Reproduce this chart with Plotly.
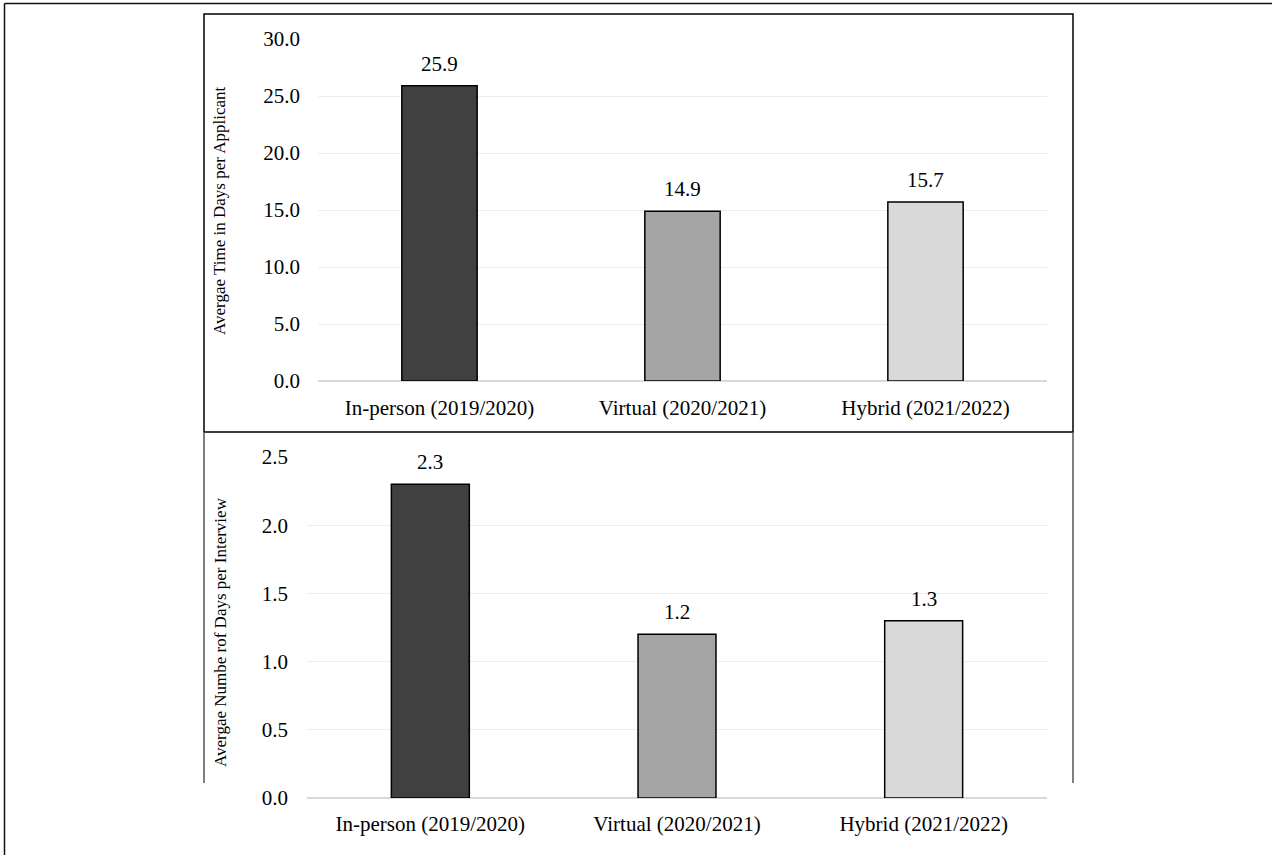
import plotly.graph_objects as go

categories = ["In-person (2019/2020)", "Virtual (2020/2021)", "Hybrid (2021/2022)"]
days_per_applicant = [25.9, 14.9, 15.7]
days_per_interview = [2.3, 1.2, 1.3]
bar_colors = ["#404040", "#A5A5A5", "#D9D9D9"]
top_ticks = [0, 5, 10, 15, 20, 25, 30]
bottom_ticks = [0, 0.5, 1.0, 1.5, 2.0, 2.5]
top_title = "Avergae Time in Days per Applicant"
bottom_title = "Avergae Numbe rof Days per Interview"

W, H = 1272, 855
FONT = "Liberation Serif, Times New Roman, serif"

def px(x):
    return x / W

def py(y):
    return 1 - y / H

fig = go.Figure()

fig.add_trace(go.Bar(
    x=categories, y=days_per_applicant, marker=dict(color=bar_colors, line=dict(color="#000000", width=1.5)),
    width=0.31, xaxis="x", yaxis="y", showlegend=False, hoverinfo="skip"))
fig.add_trace(go.Bar(
    x=categories, y=days_per_interview, marker=dict(color=bar_colors, line=dict(color="#000000", width=1.5)),
    width=0.316, xaxis="x2", yaxis="y2", showlegend=False, hoverinfo="skip"))

annotations = []
for c, v in zip(categories, days_per_applicant):
    annotations.append(dict(x=c, y=v, xref="x", yref="y", text=f"{v:.1f}", showarrow=False,
                            yanchor="bottom", yshift=8, font=dict(family=FONT, size=21, color="#000000")))
for c, v in zip(categories, days_per_interview):
    annotations.append(dict(x=c, y=v, xref="x2", yref="y2", text=f"{v:.1f}", showarrow=False,
                            yanchor="bottom", yshift=8, font=dict(family=FONT, size=21, color="#000000")))

annotations.append(dict(x=px(220), y=py(211), xref="paper", yref="paper", text=top_title, textangle=-90,
                        showarrow=False, xanchor="center", yanchor="middle",
                        font=dict(family=FONT, size=17, color="#000000")))
annotations.append(dict(x=px(220), y=py(632), xref="paper", yref="paper", text=bottom_title, textangle=-90,
                        showarrow=False, xanchor="center", yanchor="middle",
                        font=dict(family=FONT, size=17, color="#000000")))

axis_font = dict(family=FONT, size=21, color="#000000")

shapes = [
    # outer border (left and top)
    dict(type="line", xref="paper", yref="paper", x0=px(4.5), x1=px(4.5), y0=0, y1=py(3.5),
         line=dict(color="#111111", width=1.5)),
    dict(type="line", xref="paper", yref="paper", x0=px(4.5), x1=1, y0=py(3.5), y1=py(3.5),
         line=dict(color="#111111", width=1.5)),
    # top chart box
    dict(type="rect", xref="paper", yref="paper", x0=px(204), x1=px(1073), y0=py(432), y1=py(14),
         line=dict(color="#000000", width=1.5)),
    # bottom chart side lines
    dict(type="line", xref="paper", yref="paper", x0=px(204), x1=px(204), y0=py(783), y1=py(432),
         line=dict(color="#555555", width=1.5)),
    dict(type="line", xref="paper", yref="paper", x0=px(1073), x1=px(1073), y0=py(783), y1=py(432),
         line=dict(color="#555555", width=1.5)),
]

fig.update_layout(
    width=W, height=H,
    margin=dict(l=0, r=0, t=0, b=0, pad=0, autoexpand=False),
    paper_bgcolor="white", plot_bgcolor="white",
    bargap=0.69,
    font=dict(family=FONT),
    xaxis=dict(domain=[px(318), px(1047)], anchor="y", showline=False, showgrid=False, automargin=False,
               tickfont=axis_font, ticks="", ticklabelstandoff=12, fixedrange=True),
    yaxis=dict(domain=[py(381), py(39)], anchor="x", range=[0, 30], tickvals=top_ticks, automargin=False,
               ticktext=[f"{t:.1f}" for t in top_ticks], tickfont=axis_font,
               showgrid=True, gridcolor="#EDEDED", gridwidth=1.2,
               zeroline=True, zerolinecolor="#D9D9D9", zerolinewidth=1.5,
               showline=False, ticks="", ticklabelstandoff=17, fixedrange=True),
    xaxis2=dict(domain=[px(307), px(1047)], anchor="y2", showline=False, showgrid=False, automargin=False,
                tickfont=axis_font, ticks="", ticklabelstandoff=11, fixedrange=True),
    yaxis2=dict(domain=[py(798), py(457)], anchor="x2", range=[0, 2.5], tickvals=bottom_ticks, automargin=False,
                ticktext=[f"{t:.1f}" for t in bottom_ticks], tickfont=axis_font,
                showgrid=True, gridcolor="#EDEDED", gridwidth=1.2,
                zeroline=True, zerolinecolor="#D9D9D9", zerolinewidth=1.5,
                showline=False, ticks="", ticklabelstandoff=18, fixedrange=True),
    annotations=annotations,
    shapes=shapes,
)

fig.write_html("out.html", config={"displayModeBar": False},
               post_script="document.body.style.margin='0';document.body.style.overflow='hidden';")
